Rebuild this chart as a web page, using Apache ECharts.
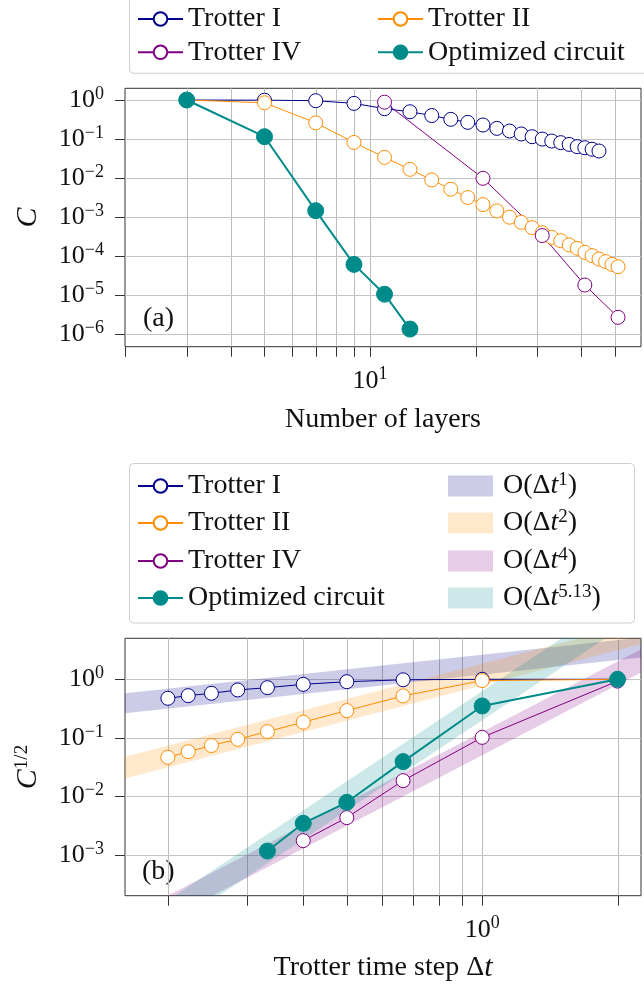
<!DOCTYPE html>
<html><head><meta charset="utf-8">
<script src="https://cdn.jsdelivr.net/npm/echarts@6.0.0/dist/echarts.min.js"></script>
<style>html,body{margin:0;padding:0;background:#fff}#c{width:644px;height:984px}</style>
</head><body><div id="c"></div><script>
// ---------- panel (a): cost vs number of layers ----------
const layersT1 = [3,5,7,9,11,13,15,17,19,21,23,25,27,29,31,33,35,37,39,41,43,45];
const costT1 = [1.0,0.99,0.96,0.82,0.60,0.50,0.40,0.32,0.268,0.229,0.188,0.161,0.135,0.115,0.100,0.089,0.081,0.073,0.064,0.060,0.055,0.0495];
const layersT2 = [3,5,7,9,11,13,15,17,19,21,23,25,27,29,31,33,35,37,39,41,43,45,47,49,51];
const costT2 = [1.0,0.85,0.26,0.082,0.034,0.0168,0.0090,0.0052,0.0032,0.0021,0.00145,0.00100,7.4e-4,5.4e-4,4.0e-4,3.05e-4,2.5e-4,1.95e-4,1.6e-4,1.26e-4,1.04e-4,8.5e-5,7.3e-5,6.2e-5,5.4e-5];
const layersT4 = [11,21,31,41,51];
const costT4 = [0.88,0.0099,3.4e-4,1.84e-5,2.74e-6];
const layersOpt = [3,5,7,9,11,13];
const costOpt = [1.0,0.115,1.47e-3,6.2e-5,1.07e-5,1.37e-6];

// ---------- panel (b): sqrt cost vs Trotter time step ----------
const dtT = [2,1,0.667,0.5,0.4,0.333,0.286,0.25,0.222,0.2];
const sqrtT1 = [1.0,1.0,0.98,0.91,0.82,0.72,0.658,0.577,0.526,0.474];
const sqrtT2 = [1.0,0.95,0.52,0.292,0.185,0.128,0.0946,0.074,0.058,0.0466];
const dtT4 = [2,1,0.667,0.5,0.4];
const sqrtT4 = [0.93,0.102,0.0186,0.00435,0.00176];
const dtOpt = [2,1,0.667,0.5,0.4,0.333];
const sqrtOpt = [1.0,0.35,0.0393,0.00794,0.00348,0.00117];

// scaling bands (edges read at the two ends)
const bandDt = [0.14, 2.4];
const band1Lo = [0.2345, 2.48],   band1Hi = [0.513, 5.43];
const band2Lo = [0.01545, 4.54],  band2Hi = [0.0362, 10.65];
const band4Lo = [1.94e-5, 1.67],  band4Hi = [4.86e-5, 4.2];
const bandOLo = [8.6e-6, 17.5],   bandOHi = [2.72e-5, 55];

// ticks / gridlines
const xTicksA = [2,3,4,5,6,7,8,9,10,20,30,40,50];
const yTicksA = [1,1e-1,1e-2,1e-3,1e-4,1e-5,1e-6];
const xTicksB = [0.2,0.3,0.4,0.5,0.6,0.7,0.8,0.9,1,2];
const yTicksB = [1,1e-1,1e-2,1e-3];

// axis ranges
const xRangeA = [2, 59.3], yRangeA = [4.85e-7, 1.993];
const xRangeB = [0.1606, 2.255], yRangeB = [2.02e-4, 5.01];

const FONT = '"Liberation Serif","DejaVu Serif",serif';
const TXT = '#111';
const C1 = '#00008B', C2 = '#FF8C00', C4 = '#800080', CO = '#008B8B';

const TICK_RICH = {
  b:{fontFamily:FONT,fontSize:26,lineHeight:30,color:TXT},
  s:{fontFamily:FONT,fontSize:18,lineHeight:14,verticalAlign:'top',color:TXT}
};
function powFmt(v){
  const e = Math.log10(v), r = Math.round(e);
  if (Math.abs(e-r) > 1e-6) return '';
  return '{b|10}{s|' + String(r).replace('-','\u2212') + '}';
}

function tickSeries(gi, xt, yt, xr, yr){
  const data = xt.map(v => [v, yr[0], 0]).concat(yt.map(v => [xr[0], v, 1]));
  return {
    type:'custom', xAxisIndex:gi, yAxisIndex:gi, silent:true, z:1, clip:false,
    data, tooltip:{show:false},
    renderItem(params, api){
      const kind = api.value(2);
      const px = v => Math.round(v) + 0.5;
      const ch = [];
      if (kind === 0){
        const v = api.value(0);
        const b = api.coord([v, yr[0]]), t = api.coord([v, yr[1]]);
        const x = px(b[0]);
        if (v > xr[0]*1.001) ch.push({type:'line', shape:{x1:x,y1:t[1],x2:x,y2:b[1]}, style:{stroke:'#bdbdbd',lineWidth:1}});
        ch.push({type:'line', shape:{x1:x,y1:b[1],x2:x,y2:b[1]+10}, style:{stroke:'#333',lineWidth:1}});
      } else {
        const v = api.value(1);
        const l = api.coord([xr[0], v]), r = api.coord([xr[1], v]);
        const y = px(l[1]);
        ch.push({type:'line', shape:{x1:l[0],y1:y,x2:r[0],y2:y}, style:{stroke:'#c4c4c4',lineWidth:1}});
        ch.push({type:'line', shape:{x1:l[0]-10,y1:y,x2:l[0],y2:y}, style:{stroke:'#333',lineWidth:1}});
      }
      return {type:'group', children:ch};
    }
  };
}

function lineSeries(name, gi, xs, ys, color, filled){
  return {
    type:'line', name, xAxisIndex:gi, yAxisIndex:gi,
    data: xs.map((x,i) => [x, ys[i]]),
    symbol:'circle', symbolSize: filled ? 16 : 14, showSymbol:true, showAllSymbol:true,
    lineStyle:{color, width: filled ? 2 : 1},
    itemStyle:{color: filled ? color : '#fff', borderColor: color, borderWidth:1},
    z:3, clip:true, emphasis:{disabled:true}
  };
}

function bandSeries(name, lo, hi, color){
  return {
    type:'custom', name, xAxisIndex:1, yAxisIndex:1, silent:true, clip:true, z:2,
    itemStyle:{color},
    data:[[bandDt[0], lo[0], bandDt[1], lo[1], hi[0], hi[1]]],
    encode:{x:[0,2], y:[1,3,4,5]},
    renderItem(params, api){
      const pts = [
        api.coord([api.value(0), api.value(1)]),
        api.coord([api.value(2), api.value(3)]),
        api.coord([api.value(2), api.value(5)]),
        api.coord([api.value(0), api.value(4)])
      ];
      return {type:'polygon', shape:{points:pts}, style:{fill:color}};
    }
  };
}

const LEG_RICH = {
  n:{fontFamily:FONT,fontSize:28,lineHeight:30,color:TXT},
  i:{fontFamily:FONT,fontSize:28,lineHeight:30,fontStyle:'italic',color:TXT},
  s:{fontFamily:FONT,fontSize:19,lineHeight:14,verticalAlign:'top',color:TXT}
};
const bandLabels = {
  'b1':'{n|O(\u0394}{i|t}{s|1}{n|)}',
  'b2':'{n|O(\u0394}{i|t}{s|2}{n|)}',
  'b4':'{n|O(\u0394}{i|t}{s|4}{n|)}',
  'bO':'{n|O(\u0394}{i|t}{s|5.13}{n|)}'
};
function mkLegend(name, left, rowY, isBand){
  const o = {
    data:[name], left, top: rowY - 15, padding:0, itemGap:0, selectedMode:false,
    itemWidth:45, itemHeight: isBand ? 21 : 17,
    textStyle:{fontFamily:FONT,fontSize:28,lineHeight:30,color:TXT,rich:LEG_RICH}
  };
  if (isBand){ o.icon = 'rect'; o.formatter = n => bandLabels[n]; o.textStyle.padding = [0,0,0,5]; }
  return o;
}

const axisNameStyle = {fontFamily:FONT,fontSize:28,color:TXT,rich:{
  n:{fontFamily:FONT,fontSize:28,lineHeight:30,color:TXT},
  i:{fontFamily:FONT,fontSize:30,lineHeight:30,fontStyle:'italic',color:TXT},
  s:{fontFamily:FONT,fontSize:19,lineHeight:14,verticalAlign:'top',color:TXT}
}};

function xAx(gi, r, name, gap){
  return {type:'log', gridIndex:gi, min:r[0], max:r[1],
    axisLine:{show:false}, axisTick:{show:false}, splitLine:{show:false},
    minorTick:{show:false}, minorSplitLine:{show:false},
    axisLabel:{formatter:powFmt, rich:TICK_RICH, margin:19, color:TXT},
    name, nameLocation:'middle', nameGap:gap, nameTextStyle:axisNameStyle};
}
function yAx(gi, r, name, gap){
  return {type:'log', gridIndex:gi, min:r[0], max:r[1], splitNumber:10,
    axisLine:{show:false}, axisTick:{show:false}, splitLine:{show:false},
    minorTick:{show:false}, minorSplitLine:{show:false},
    axisLabel:{formatter:powFmt, rich:TICK_RICH, margin:21, color:TXT},
    name, nameLocation:'middle', nameGap:gap, nameRotate:90, nameTextStyle:axisNameStyle};
}

const chart = echarts.init(document.getElementById('c'), null, {renderer:'canvas', width:644, height:984});
chart.setOption({
  animation:false,
  backgroundColor:'#fff',
  grid:[
    {left:125, top:88.3, width:522, height:258.4, show:true, borderColor:'#333', borderWidth:1, backgroundColor:'transparent'},
    {left:125, top:638.3, width:522, height:257.4, show:true, borderColor:'#333', borderWidth:1, backgroundColor:'transparent'}
  ],
  xAxis:[ xAx(0, xRangeA, 'Number of layers', 59),
          xAx(1, xRangeB, '{n|Trotter time step \u0394}{i|t}', 57) ],
  yAxis:[ yAx(0, yRangeA, '{i|C}', 82),
          yAx(1, yRangeB, '{i|C}{s|1/2}', 82) ],
  legend:[
    mkLegend('Trotter I', 137, 19, false),
    mkLegend('Trotter II', 377, 19, false),
    mkLegend('Trotter IV', 137, 52.3, false),
    mkLegend('Optimized circuit', 377, 52.3, false),
    mkLegend('Trotter I', 137, 486, false),
    mkLegend('Trotter II', 137, 523, false),
    mkLegend('Trotter IV', 137, 561, false),
    mkLegend('Optimized circuit', 137, 598, false),
    mkLegend('b1', 448, 486, true),
    mkLegend('b2', 448, 523, true),
    mkLegend('b4', 448, 561, true),
    mkLegend('bO', 448, 598, true)
  ],
  graphic:[
    {type:'rect', shape:{x:129.5, y:-6, width:540, height:79.3, r:4}, style:{fill:'#fff', stroke:'#cfcfcf', lineWidth:1}},
    {type:'rect', shape:{x:129.5, y:463.5, width:505, height:159.5, r:4}, style:{fill:'#fff', stroke:'#cfcfcf', lineWidth:1}},
    {type:'text', x:143, y:319, style:{text:'(a)', font:'28px "Liberation Serif"', fill:TXT, verticalAlign:'middle', textVerticalAlign:'middle'}},
    {type:'text', x:142, y:872, style:{text:'(b)', font:'28px "Liberation Serif"', fill:TXT, verticalAlign:'middle', textVerticalAlign:'middle'}}
  ],
  series:[
    tickSeries(0, xTicksA, yTicksA, xRangeA, yRangeA),
    tickSeries(1, xTicksB, yTicksB, xRangeB, yRangeB),
    bandSeries('b1', band1Lo, band1Hi, 'rgba(0,0,139,0.2)'),
    bandSeries('b2', band2Lo, band2Hi, 'rgba(255,140,0,0.2)'),
    bandSeries('b4', band4Lo, band4Hi, 'rgba(128,0,128,0.2)'),
    bandSeries('bO', bandOLo, bandOHi, 'rgba(0,139,139,0.2)'),
    lineSeries('Trotter I', 0, layersT1, costT1, C1, false),
    lineSeries('Trotter II', 0, layersT2, costT2, C2, false),
    lineSeries('Trotter IV', 0, layersT4, costT4, C4, false),
    lineSeries('Optimized circuit', 0, layersOpt, costOpt, CO, true),
    lineSeries('Trotter I', 1, dtT, sqrtT1, C1, false),
    lineSeries('Trotter II', 1, dtT, sqrtT2, C2, false),
    lineSeries('Trotter IV', 1, dtT4, sqrtT4, C4, false),
    lineSeries('Optimized circuit', 1, dtOpt, sqrtOpt, CO, true)
  ]
});
</script></body></html>
